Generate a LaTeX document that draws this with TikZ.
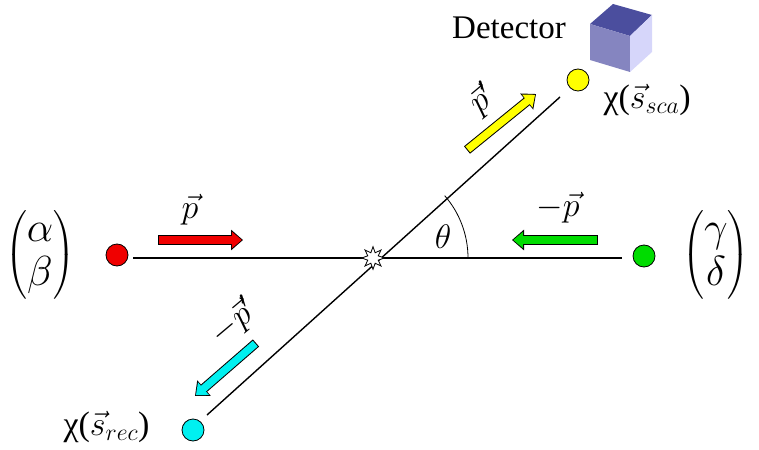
\documentclass[tikz,border=0pt]{standalone}
\usepackage{fontspec}
\setmainfont{Liberation Serif}
\usepackage{amsmath}
\usepackage{fix-cm}
\usetikzlibrary{shapes.geometric,arrows.meta}
\definecolor{cR}{RGB}{240,0,0}
\definecolor{cG}{RGB}{0,220,0}
\definecolor{cY}{RGB}{255,255,0}
\definecolor{cC}{RGB}{0,240,240}
\definecolor{cubeT}{RGB}{75,78,158}
\definecolor{cubeL}{RGB}{133,133,192}
\definecolor{cubeR}{RGB}{214,214,250}
\begin{document}
\begin{tikzpicture}[x=1pt,y=-1pt,
  dot/.style={circle,draw=black,line width=0.8pt,minimum size=22pt,inner sep=0pt},
  lbl/.style={font=\fontsize{34}{36}\selectfont},
  ln/.style={line width=1.4pt}]
\useasboundingbox (0,0) rectangle (759,449);
\coordinate (c) at (373,258);
\node[dot,fill=cR] (r) at (117,255) {};
\node[dot,fill=cG] (g) at (644,256) {};
\node[dot,fill=cY] (y) at (578,80) {};
\node[dot,fill=cC] (cy) at (193,430) {};
\coordinate (hl) at (133,258);
\coordinate (hr) at (622,258);
\coordinate (dt) at (560,97);
\coordinate (db) at (207,415);
\draw[ln] (hl) -- (hr);
\draw[ln] (db) -- (dt);
\draw[line width=0.8pt] (c) ++(95,0) arc[start angle=0,end angle=-41,radius=95];
\node[star,star points=8,star point ratio=2,draw,fill=white,inner sep=4pt,line width=0.8pt] (s) at (c) {};
\coordinate (a1) at (158,240); \coordinate (a2) at (243,240);
\coordinate (b1) at (598,240); \coordinate (b2) at (512,240);
\coordinate (y1) at (467,150); \coordinate (y2) at (536,94);
\coordinate (q1) at (256,343); \coordinate (q2) at (195,396);
\foreach \p/\q/\f in {a1/a2/cR,b1/b2/cG,y1/y2/cY,q1/q2/cC}{
  \draw[line width=9.5pt,draw=black,-{Triangle[length=12pt,width=20pt]}] (\p) -- (\q);
  \draw[line width=7.5pt,draw=\f,-{Triangle[length=10pt,width=16pt]},shorten >=1.2pt,shorten <=1pt] (\p) -- (\q);
}
\node[lbl] (lp) at (190,210) {$\vec{p}$};
\node[lbl] (lmp) at (558,208) {$-\vec{p}$};
\node[lbl,rotate=40] (lpp) at (483,100) {$\vec{p}'$};
\node[lbl,rotate=40] (lmpp) at (234,322) {$-\vec{p}'$};
\node[lbl] (th) at (443,237) {$\theta$};
\node[font=\fontsize{42}{44}\selectfont] (m1) at (40,255) {$\begin{pmatrix}\alpha\\ \beta\end{pmatrix}$};
\node[font=\fontsize{42}{44}\selectfont] (m2) at (716,255) {$\begin{pmatrix}\gamma\\ \delta\end{pmatrix}$};
\node[lbl,anchor=west] (sca) at (600,100) {χ($\vec{s}_{sca}$)};
\node[lbl,anchor=east] (rec) at (153,427) {χ($\vec{s}_{rec}$)};
\node[font=\fontsize{33}{35}\selectfont] (det) at (509,28) {Detector};
\fill[cubeT] (590,24) -- (613,4) -- (652,15) -- (630,36) -- cycle;
\fill[cubeL] (590,24) -- (630,36) -- (630,72) -- (590,60) -- cycle;
\fill[cubeR] (630,36) -- (652,15) -- (652,52) -- (630,72) -- cycle;
\end{tikzpicture}
\end{document}
